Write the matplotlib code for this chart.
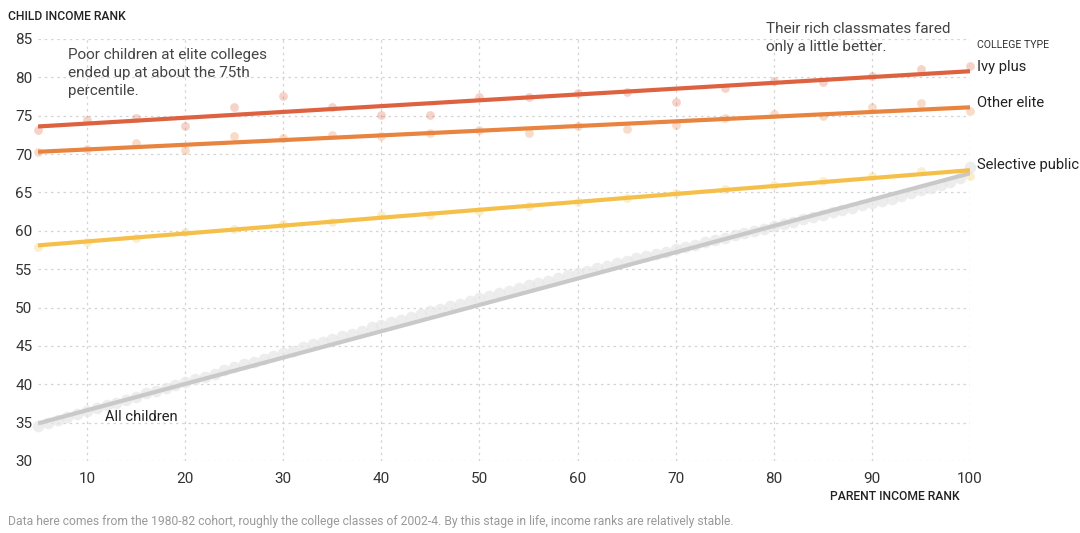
#!/usr/bin/env python3
"""Child income rank vs parent income rank, by college type."""

import matplotlib
matplotlib.use("Agg")
import matplotlib.pyplot as plt

# --- data ---
group_x = [5, 10, 15, 20, 25, 30, 35, 40, 45, 50, 55, 60, 65, 70, 75, 80, 85, 90, 95, 100]

ivy_plus = [73.2, 74.4, 74.7, 73.7, 76.1, 77.6, 76.2, 75.1, 75.1, 77.4, 77.5, 78.0, 78.1,
            76.8, 78.6, 79.5, 79.4, 80.2, 81.1, 81.5]
other_elite = [70.3, 70.6, 71.4, 70.5, 72.3, 72.1, 72.5, 72.4, 72.8, 73.1, 72.7, 73.6, 73.3,
               73.8, 74.7, 75.2, 75.0, 76.1, 76.6, 75.6]
selective_public = [57.9, 58.5, 59.1, 59.8, 60.3, 60.9, 61.2, 62.0, 62.1, 62.6, 63.2, 63.7,
                    64.3, 64.9, 65.4, 66.0, 66.5, 67.2, 67.8, 67.1]

all_x = list(range(5, 101))
all_children = [34.5, 34.9, 35.3, 35.7, 36.1, 36.5, 36.9, 37.3, 37.6, 38.0,
                38.4, 38.8, 39.1, 39.5, 39.9, 40.3, 40.7, 41.0, 41.4, 41.8,
                42.2, 42.6, 42.9, 43.3, 43.7, 44.1, 44.4, 44.8, 45.2, 45.5,
                45.9, 46.3, 46.6, 47.0, 47.4, 47.7, 48.1, 48.4, 48.8, 49.1,
                49.5, 49.8, 50.2, 50.5, 50.9, 51.2, 51.5, 51.9, 52.2, 52.5,
                52.9, 53.2, 53.5, 53.8, 54.2, 54.5, 54.8, 55.1, 55.4, 55.8,
                56.1, 56.4, 56.7, 57.0, 57.3, 57.6, 57.9, 58.2, 58.5, 58.8,
                59.1, 59.4, 59.7, 60.0, 60.3, 60.6, 60.9, 61.2, 61.5, 61.8,
                62.1, 62.4, 62.7, 63.0, 63.3, 63.6, 63.9, 64.2, 64.6, 64.9,
                65.3, 65.6, 66.0, 66.4, 66.9, 68.3]

# trend lines: value at parent rank 5 and at 100
fit_x = [5, 100]
ivy_fit = [73.6, 80.8]
elite_fit = [70.3, 76.1]
public_fit = [58.1, 67.9]
all_fit = [34.9, 67.5]

x_ticks = [10, 20, 30, 40, 50, 60, 70, 80, 90, 100]
y_ticks = [30, 35, 40, 45, 50, 55, 60, 65, 70, 75, 80, 85]

IVY = "#dd6240"
ELITE = "#e8843f"
PUBLIC = "#f5c04a"
ALL = "#c9c9c9"
TEXT = "#333333"

plt.rcParams["font.family"] = ["Roboto", "DejaVu Sans"]

W, H = 1080, 533
fig = plt.figure(figsize=(W / 100, H / 100), dpi=100)


def px(x, y):
    return x / W, 1 - y / H


left, right = px(38, 0)[0], px(970, 0)[0]
bottom, top = px(0, 461)[1], px(0, 39)[1]
ax = fig.add_axes([left, bottom, right - left, top - bottom])

ax.set_xlim(5, 100)
ax.set_ylim(30, 85)
ax.set_xticks(x_ticks)
ax.set_yticks(y_ticks)
ax.tick_params(length=0, labelsize=11, labelcolor=TEXT)
ax.tick_params(axis="y", pad=4)
ax.tick_params(axis="x", pad=8)
for s in ax.spines.values():
    s.set_visible(False)
ax.grid(True, color="#d4d4d4", linestyle=(0, (2, 3)), linewidth=0.9)
ax.set_axisbelow(True)

# dots
ax.scatter(all_x, all_children, s=70, color="#e6e6e6", alpha=0.7, linewidths=0,
           clip_on=False, zorder=2)
for vals, col in [(ivy_plus, IVY), (other_elite, ELITE), (selective_public, PUBLIC)]:
    ax.scatter(group_x, vals, s=40, color=col, alpha=0.28, linewidths=0,
               clip_on=False, zorder=2)

# trend lines
ax.plot(fit_x, all_fit, color=ALL, lw=3, solid_capstyle="butt", zorder=3)
ax.plot(fit_x, public_fit, color=PUBLIC, lw=3, solid_capstyle="butt", zorder=3)
ax.plot(fit_x, elite_fit, color=ELITE, lw=3, solid_capstyle="butt", zorder=3)
ax.plot(fit_x, ivy_fit, color=IVY, lw=3, solid_capstyle="butt", zorder=3)

# texts
fig.text(*px(8, 17), "CHILD INCOME RANK", fontsize=8.7, fontweight="medium",
         color="#222222", va="center", ha="left")
fig.text(*px(960, 496), "PARENT INCOME RANK", fontsize=8.7, fontweight="medium",
         color="#222222", va="center", ha="right")
fig.text(*px(68, 48), "Poor children at elite colleges\nended up at about the 75th\npercentile.",
         fontsize=11, color="#444444", va="top", ha="left", linespacing=1.35)
fig.text(*px(766, 22), "Their rich classmates fared\nonly a little better.",
         fontsize=11, color="#444444", va="top", ha="left", linespacing=1.35)
fig.text(*px(977, 45), "COLLEGE TYPE", fontsize=7.6, color=TEXT, va="center", ha="left")
fig.text(*px(977, 67), "Ivy plus", fontsize=10.6, color="#222222", va="center", ha="left")
fig.text(*px(977, 103), "Other elite", fontsize=10.6, color="#222222", va="center", ha="left")
fig.text(*px(977, 165), "Selective public", fontsize=10.6, color="#222222", va="center", ha="left")
fig.text(*px(105, 417), "All children", fontsize=10.6, color="#222222", va="center", ha="left")
fig.text(*px(8, 521), "Data here comes from the 1980-82 cohort, roughly the college classes of "
         "2002-4. By this stage in life, income ranks are relatively stable.",
         fontsize=8.7, color="#999999", va="center", ha="left")

fig.savefig("out.png", dpi=100)
